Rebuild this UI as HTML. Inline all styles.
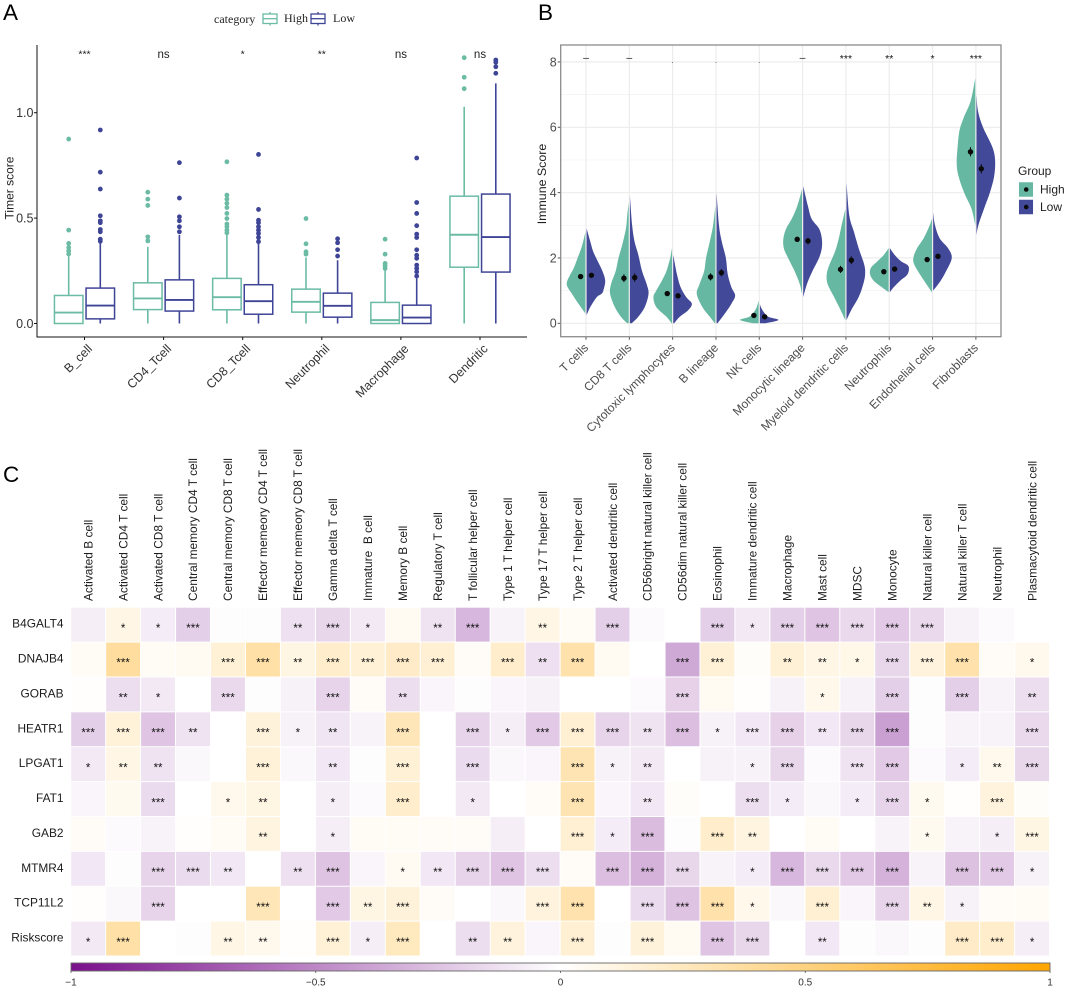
<!DOCTYPE html>
<html lang="en">
<head>
<meta charset="utf-8">
<title>Immune infiltration panels</title>
<style>
html,body{margin:0;padding:0;background:#fff;width:1065px;height:987px;overflow:hidden}
svg{display:block;font-family:"Liberation Sans",Arial,sans-serif}
text{white-space:pre}
</style>
</head>
<body>
<svg id="fig" xmlns="http://www.w3.org/2000/svg" width="1065" height="987" viewBox="0 0 1065 987">
<defs>
<linearGradient id="corrGrad" x1="0" x2="1" y1="0" y2="0">
<stop offset="0" stop-color="#7a0f8c"/><stop offset="0.5" stop-color="#ffffff"/><stop offset="1" stop-color="#ffa500"/>
</linearGradient>
</defs>
<rect width="1065" height="987" fill="#fff"/>
<g id="panelA"></g>
<g id="panelB"></g>
<g id="panelC"></g>
</svg>
<script>
/* ---------- Panel A data ---------- */
const timerCategories = ["B_cell","CD4_Tcell","CD8_Tcell","Neutrophil","Macrophage","Dendritic"];
const timerSignif = ["***","ns","*","**","ns","ns"];
const timerTicks = [0,0.5,1];
const timerTickLabels = ["0.0","0.5","1.0"];
const highQ1 = [0,0.066,0.065,0.054,0,0.267];
const highMedian = [0.052,0.119,0.125,0.103,0.016,0.421];
const highQ3 = [0.133,0.193,0.214,0.163,0.1,0.604];
const highWhiskerTop = [0.32,0.364,0.427,0.313,0.261,1.028];
const highOutliers = [
 [0.875,0.443,0.38,0.36,0.345,0.33],
 [0.623,0.59,0.56,0.411,0.392],
 [0.767,0.609,0.59,0.57,0.55,0.522,0.498,0.472,0.459,0.443,0.43],
 [0.498,0.378,0.34,0.329],
 [0.40,0.329,0.285,0.274,0.261],
 [1.261,1.168,1.114]];
const lowQ1 = [0.022,0.059,0.044,0.03,0,0.244];
const lowMedian = [0.085,0.112,0.106,0.084,0.028,0.41];
const lowQ3 = [0.168,0.207,0.184,0.144,0.087,0.614];
const lowWhiskerTop = [0.39,0.42,0.38,0.30,0.214,1.139];
const lowOutliers = [
 [0.918,0.718,0.638,0.511,0.487,0.478,0.446,0.435,0.40,0.39],
 [0.763,0.595,0.506,0.487,0.459,0.435],
 [0.802,0.541,0.49,0.478,0.459,0.443,0.427,0.408,0.388],
 [0.402,0.383,0.35,0.32],
 [0.785,0.574,0.522,0.464,0.424,0.408,0.35,0.324,0.309,0.277,0.261,0.245,0.225],
 [1.25,1.239,1.218,1.187]];

/* ---------- Panel B data ---------- */
const immuneCategories = ["T cells","CD8 T cells","Cytotoxic lymphocytes","B lineage","NK cells","Monocytic lineage","Myeloid dendritic cells","Neutrophils","Endothelial cells","Fibroblasts"];
const immuneSignif = ["\u2013","\u2013",".",".",".","\u2013","***","**","*","***"];
const immuneTicks = [0,2,4,6,8];
const immuneMinorTicks = [1,3,5,7];
const highMeans = [1.43,1.38,0.91,1.42,0.24,2.57,1.65,1.58,1.95,5.25];
const lowMeans = [1.47,1.40,0.84,1.55,0.20,2.52,1.93,1.66,2.05,4.73];
const highErrors = [0.07,0.12,0.05,0.11,0.03,0.08,0.11,0.05,0.05,0.14];
const lowErrors = [0.07,0.13,0.05,0.11,0.03,0.10,0.12,0.05,0.05,0.14];
/* each violin: [score, relative density] */
const highViolins = [
 [[0.3,0],[0.5,0.25],[0.7,0.5],[0.9,0.72],[1.1,0.95],[1.25,1],[1.45,0.85],[1.7,0.62],[2.0,0.42],[2.3,0.22],[2.6,0.08],[2.8,0]],
 [[0,0.08],[0.2,0.42],[0.5,0.75],[0.9,1],[1.2,0.95],[1.6,0.7],[2.0,0.55],[2.4,0.35],[2.9,0.15],[3.3,0.08],[3.7,0]],
 [[0,0.02],[0.2,0.3],[0.5,0.85],[0.8,1],[1.0,0.85],[1.3,0.55],[1.6,0.3],[2.0,0.1],[2.3,0]],
 [[0,0.02],[0.2,0.3],[0.5,0.7],[0.9,1],[1.2,0.85],[1.6,0.6],[2.0,0.5],[2.5,0.3],[3.0,0.12],[3.6,0]],
 [[0,0.3],[0.1,1],[0.2,0.5],[0.35,0.25],[0.5,0.1],[0.7,0]],
 [[0.9,0],[1.2,0.12],[1.6,0.4],[2.0,0.75],[2.3,0.98],[2.6,1],[2.9,0.85],[3.2,0.55],[3.6,0.25],[4.1,0]],
 [[0.1,0],[0.4,0.25],[0.8,0.6],[1.2,0.95],[1.5,1],[1.8,0.85],[2.2,0.55],[2.6,0.35],[3.0,0.2],[3.5,0]],
 [[0.95,0],[1.1,0.35],[1.3,0.8],[1.5,1],[1.7,0.95],[1.9,0.6],[2.1,0.25],[2.3,0]],
 [[0.95,0],[1.2,0.3],[1.5,0.65],[1.8,0.95],[2.0,1],[2.3,0.8],[2.6,0.45],[3.0,0.12],[3.2,0]],
 [[3.0,0],[3.5,0.2],[4.0,0.6],[4.5,0.9],[4.9,1],[5.4,0.95],[5.9,0.85],[6.3,0.62],[6.8,0.25],[7.5,0]]];
const lowViolins = [
 [[0.25,0],[0.5,0.2],[0.8,0.55],[0.9,0.8],[1.0,0.9],[1.3,1],[1.6,0.85],[1.9,0.6],[2.2,0.35],[2.5,0.2],[2.9,0]],
 [[0,0.1],[0.2,0.45],[0.5,0.8],[0.9,1],[1.2,0.9],[1.6,0.65],[2.1,0.45],[2.5,0.25],[3.0,0.12],[3.9,0]],
 [[0,0.05],[0.2,0.35],[0.4,0.8],[0.6,1],[0.8,0.7],[1.1,0.4],[1.5,0.2],[2.1,0]],
 [[0,0.05],[0.3,0.45],[0.6,0.8],[0.85,1],[1.1,0.8],[1.5,0.6],[2.0,0.5],[2.5,0.28],[3.0,0.13],[4.0,0]],
 [[0,0.3],[0.1,1],[0.2,0.45],[0.35,0.2],[0.5,0.05],[0.6,0]],
 [[0.8,0],[1.2,0.2],[1.6,0.5],[2.0,0.85],[2.3,1],[2.6,1],[2.9,0.85],[3.2,0.45],[3.6,0.25],[4.2,0]],
 [[0.1,0],[0.4,0.25],[0.8,0.65],[1.2,0.9],[1.5,1],[1.8,0.95],[2.3,0.65],[2.8,0.4],[3.3,0.15],[4.3,0]],
 [[0.95,0],[1.1,0.2],[1.3,0.55],[1.5,0.95],[1.75,1],[1.9,0.6],[2.1,0.25],[2.3,0]],
 [[1.0,0],[1.3,0.4],[1.6,0.7],[2.0,1],[2.3,0.8],[2.6,0.35],[3.0,0.1],[3.4,0]],
 [[2.7,0],[3.0,0.1],[3.5,0.4],[4.0,0.72],[4.5,0.95],[5.0,1],[5.4,0.85],[6.0,0.35],[6.5,0.08],[7.0,0]]];

/* ---------- Panel C data ---------- */
const geneLabels = ["B4GALT4","DNAJB4","GORAB","HEATR1","LPGAT1","FAT1","GAB2","MTMR4","TCP11L2","Riskscore"];
const cellLabels = ["Activated B cell","Activated CD4 T cell","Activated CD8 T cell","Central memory CD4 T cell","Central memory CD8 T cell","Effector memeory CD4 T cell","Effector memeory CD8 T cell","Gamma delta T cell","Immature  B cell","Memory B cell","Regulatory T cell","T follicular helper cell","Type 1 T helper cell","Type 17 T helper cell","Type 2 T helper cell","Activated dendritic cell","CD56bright natural killer cell","CD56dim natural killer cell","Eosinophil","Immature dendritic cell","Macrophage","Mast cell","MDSC","Monocyte","Natural killer cell","Natural killer T cell","Neutrophil","Plasmacytoid dendritic cell"];
const corrValues = [
 [-.07,.1,-.08,-.2,-.01,-.01,-.13,-.17,-.09,.05,-.12,-.3,-.05,.1,.04,-.2,-.02,0,-.2,-.09,-.2,-.24,-.16,-.22,-.16,-.06,-.02,0],
 [.04,.38,.04,.05,.16,.35,.11,.2,.16,.22,.17,.03,.2,-.13,.33,.05,0,-.36,.16,.02,.16,.1,.09,-.17,.13,.33,.03,.07],
 [.01,-.14,-.09,0,-.16,-.01,-.06,-.18,.03,-.14,-.04,-.01,-.04,-.06,0,0,-.02,-.19,.05,.01,-.06,.08,-.06,-.2,-.01,-.2,-.05,-.14],
 [-.2,.15,-.24,-.12,0,.14,-.06,-.11,-.05,.28,0,-.18,-.07,-.22,.17,-.18,-.12,-.27,-.06,-.1,-.19,-.1,-.17,-.4,-.01,-.05,-.05,-.16],
 [-.09,.1,-.12,-.03,0,.15,-.03,-.1,-.01,.16,0,-.15,-.03,-.04,.3,-.06,-.09,0,-.06,-.06,-.17,-.02,-.12,-.22,-.02,-.08,.07,-.17],
 [-.04,.06,-.15,0,.07,.11,0,-.07,-.02,.2,0,-.09,0,.03,.3,-.04,-.1,.02,0,-.14,-.08,-.03,-.08,-.18,.06,.01,.13,.02],
 [.03,-.02,-.05,.01,.04,.12,0,-.07,.04,.04,.03,.03,-.07,0,.17,-.08,-.28,-.01,.2,.12,0,.04,0,-.05,.06,-.05,-.07,.11],
 [-.1,-.01,-.18,-.15,-.1,0,-.13,-.25,-.04,.05,-.1,-.18,-.24,-.14,.03,-.27,-.32,-.17,-.05,-.08,-.3,-.16,-.22,-.32,-.05,-.26,-.22,-.06],
 [.01,-.03,-.18,0,0,.28,0,-.22,.11,.14,.03,0,-.03,.13,.32,0,-.15,-.25,.33,.08,-.03,.17,-.04,-.18,.1,-.06,.03,.04],
 [-.09,.35,0,-.01,.1,.07,.01,.16,-.07,.25,0,-.14,.13,-.04,.17,-.01,.14,.05,-.24,-.17,0,-.1,-.01,-.03,-.01,.22,.2,-.07]];
const corrStars = [
 [0,1,1,3,0,0,2,3,1,0,2,3,0,2,0,3,0,0,3,1,3,3,3,3,3,0,0,0],
 [0,3,0,0,3,3,2,3,3,3,3,0,3,2,3,0,0,3,3,0,2,2,1,3,3,3,0,1],
 [0,2,1,0,3,0,0,3,0,2,0,0,0,0,0,0,0,3,0,0,0,1,0,3,0,3,0,2],
 [3,3,3,2,0,3,1,2,0,3,0,3,1,3,3,3,2,3,1,3,3,2,3,3,0,0,0,3],
 [1,2,2,0,0,3,0,2,0,3,0,3,0,0,3,1,2,0,0,1,3,0,3,3,0,1,2,3],
 [0,0,3,0,1,2,0,1,0,3,0,1,0,0,3,0,2,0,0,3,1,0,1,3,1,0,3,0],
 [0,0,0,0,0,2,0,1,0,0,0,0,0,0,3,1,3,0,3,2,0,0,0,0,1,0,1,3],
 [0,0,3,3,2,0,2,3,0,1,2,3,3,3,0,3,3,3,0,1,3,3,3,3,0,3,3,1],
 [0,0,3,0,0,3,0,3,2,3,0,0,0,3,3,0,3,3,3,1,0,3,0,3,2,1,0,0],
 [1,3,0,0,2,2,0,3,1,3,0,2,2,0,3,0,3,0,3,3,0,2,0,0,0,3,3,1]];
const colorbarTicks = [-1,-0.5,0,0.5,1];
const colorbarLabels = ["\u22121","\u22120.5","0","0.5","1"];

/* ---------- helpers ---------- */
const NS = "http://www.w3.org/2000/svg";
const TEAL = "#6bbba5", NAVY = "#3f4596", TEAL_FILL = "#66b8a2", NAVY_FILL = "#424998";
function mk(parent, tag, attrs, txt){
  const el = document.createElementNS(NS, tag);
  for (const k in attrs) el.setAttribute(k, attrs[k]);
  if (txt !== undefined) el.textContent = txt;
  parent.appendChild(el);
  return el;
}
const svgA = document.getElementById("panelA");
const svgB = document.getElementById("panelB");
const svgC = document.getElementById("panelC");
let el;

/* panel letters */
[["A",3,20,svgA],["B",538,20,svgB],["C",3,482,svgC]].forEach(function(p){
  el = mk(p[3], "text", {x:p[1], y:p[2], "font-size":22.5, fill:"#000"}, p[0]);
  
  
});

/* ---------- Panel A ---------- */
const xA = i => 84.5 + 79.1 * i;
const yA = v => 323.5 - v * 210.8;
const boxOffset = 15.8, boxWidth = 28.5;

el = mk(svgA, "line", {x1:37, x2:37, y1:45, y2:337.5, stroke:"#111", "stroke-width":1});


el = mk(svgA, "line", {x1:37, x2:527, y1:337, y2:337, stroke:"#111", "stroke-width":1});


el = mk(svgA, "text", {transform:"translate(13.5,188) rotate(-90)", "text-anchor":"middle", "font-size":12, fill:"#222"}, "Timer score");



timerTicks.forEach(function(t, i){
  el = mk(svgA, "line", {x1:34, x2:37, y1:yA(t), y2:yA(t), stroke:"#111", "stroke-width":1});
  
  
  el = mk(svgA, "text", {x:33.5, y:yA(t)+4.4, "text-anchor":"end", "font-size":12.5, fill:"#333"}, timerTickLabels[i]);
  
  
});

function drawBox(i, dir, color, q1, med, q3, top, outs){
  const cx = xA(i) + dir * boxOffset;
  const g = mk(svgA, "g", {});
  
  
  el = mk(g, "line", {x1:cx, x2:cx, y1:yA(q3), y2:yA(top), stroke:color, "stroke-width":1.6});
  
  
  el = mk(g, "line", {x1:cx, x2:cx, y1:yA(q1), y2:yA(0), stroke:color, "stroke-width":1.6});
  
  
  el = mk(g, "rect", {x:cx-boxWidth/2, width:boxWidth, y:yA(q3), height:yA(q1)-yA(q3), fill:"#fff", stroke:color, "stroke-width":1.5});
  
  
  el = mk(g, "line", {x1:cx-boxWidth/2, x2:cx+boxWidth/2, y1:yA(med), y2:yA(med), stroke:color, "stroke-width":1.9});
  
  
  outs.forEach(function(o){
    el = mk(g, "circle", {cx:cx, cy:yA(o), r:2.4, fill:color});
    
    
  });
}
timerCategories.forEach(function(c, i){
  drawBox(i, -1, TEAL, highQ1[i], highMedian[i], highQ3[i], highWhiskerTop[i], highOutliers[i]);
  drawBox(i, 1, NAVY, lowQ1[i], lowMedian[i], lowQ3[i], lowWhiskerTop[i], lowOutliers[i]);
  el = mk(svgA, "line", {x1:xA(i), x2:xA(i), y1:337, y2:340, stroke:"#111", "stroke-width":1});
  
  
  el = mk(svgA, "text", {transform:"translate("+(xA(i)+8.5)+",349.5) rotate(-45)", "text-anchor":"end", "font-size":12.4, fill:"#333"}, c);
  
  
  const isStar = timerSignif[i] !== "ns";
  el = mk(svgA, "text", {x:xA(i), y:isStar?57.5:58, "text-anchor":"middle", "font-size":isStar?10.5:11.5, fill:"#222"}, timerSignif[i]);
  
  
});

/* panel A legend */
el = mk(svgA, "text", {x:214, y:23, "font-family":"Liberation Serif, serif", "font-size":12, fill:"#222"}, "category");


[[263,TEAL,"High",284],[311,NAVY,"Low",333]].forEach(function(l){
  const g = mk(svgA, "g", {});
  
  
  el = mk(g, "line", {x1:l[0]+7, x2:l[0]+7, y1:12, y2:25.5, stroke:l[1], "stroke-width":1.3});
  
  
  el = mk(g, "rect", {x:l[0], y:14, width:14, height:9.5, fill:"#fff", stroke:l[1], "stroke-width":1.3});
  
  
  el = mk(g, "line", {x1:l[0], x2:l[0]+14, y1:18.7, y2:18.7, stroke:l[1], "stroke-width":1.3});
  
  
  el = mk(g, "text", {x:l[3], y:22, "font-family":"Liberation Serif, serif", "font-size":12, fill:"#222"}, l[2]);
  
  
});

/* ---------- Panel B ---------- */
const xB = i => 586 + 43.32 * i;
const yB = v => 323.3 - v * 32.67;
const violinHalfWidth = 18.6, violinGap = 0.6, meanOffset = 5.4;
const panelL = 560.7, panelR = 1001, panelT = 45, panelB = 336.7;

immuneMinorTicks.forEach(function(t){
  el = mk(svgB, "line", {x1:panelL, x2:panelR, y1:yB(t), y2:yB(t), stroke:"#f2f2f2", "stroke-width":0.7});
  
  
});
immuneTicks.forEach(function(t){
  el = mk(svgB, "line", {x1:panelL, x2:panelR, y1:yB(t), y2:yB(t), stroke:"#ebebeb", "stroke-width":1.1});
  
  
  el = mk(svgB, "line", {x1:panelL-3, x2:panelL, y1:yB(t), y2:yB(t), stroke:"#555", "stroke-width":1});
  
  
  el = mk(svgB, "text", {x:panelL-4, y:yB(t)+4.4, "text-anchor":"end", "font-size":12.5, fill:"#4d4d4d"}, String(t));
  
  
});
function smoothPath(pts){
  let d = "";
  for (let i = 0; i < pts.length - 1; i++){
    const p0 = pts[Math.max(i-1,0)], p1 = pts[i], p2 = pts[i+1], p3 = pts[Math.min(i+2,pts.length-1)];
    const c1x = p1[0]+(p2[0]-p0[0])/6, c1y = p1[1]+(p2[1]-p0[1])/6;
    const c2x = p2[0]-(p3[0]-p1[0])/6, c2y = p2[1]-(p3[1]-p1[1])/6;
    d += " C"+c1x.toFixed(2)+" "+c1y.toFixed(2)+" "+c2x.toFixed(2)+" "+c2y.toFixed(2)+" "+p2[0].toFixed(2)+" "+p2[1].toFixed(2);
  }
  return d;
}
function violinD(i, dir, profile){
  const base = xB(i) + dir * violinGap;
  const pts = profile.map(p => [base + dir * p[1] * violinHalfWidth, yB(p[0])]);
  return "M"+base.toFixed(2)+" "+pts[0][1].toFixed(2)+" L"+pts[0][0].toFixed(2)+" "+pts[0][1].toFixed(2)+smoothPath(pts)+" L"+base.toFixed(2)+" "+pts[pts.length-1][1].toFixed(2)+" Z";
}
immuneCategories.forEach(function(c, i){
  el = mk(svgB, "line", {x1:xB(i), x2:xB(i), y1:panelT, y2:panelB, stroke:"#ebebeb", "stroke-width":1.1});
  
  
});
immuneCategories.forEach(function(c, i){
  el = mk(svgB, "path", {d:violinD(i,-1,highViolins[i]), fill:TEAL_FILL});
  
  
  el = mk(svgB, "path", {d:violinD(i,1,lowViolins[i]), fill:NAVY_FILL});
  
  
  [[-1,highMeans[i],highErrors[i]],[1,lowMeans[i],lowErrors[i]]].forEach(function(m){
    const mx = xB(i) + m[0]*meanOffset;
    el = mk(svgB, "line", {x1:mx, x2:mx, y1:yB(m[1]-m[2]), y2:yB(m[1]+m[2]), stroke:"#0a0a0a", "stroke-width":1});
    
    
    el = mk(svgB, "circle", {cx:mx, cy:yB(m[1]), r:2.7, fill:"#0a0a0a"});
    
    
  });
  el = mk(svgB, "line", {x1:xB(i), x2:xB(i), y1:panelB, y2:panelB+3, stroke:"#555", "stroke-width":1});
  
  
  el = mk(svgB, "text", {transform:"translate("+(xB(i)+3)+",348.5) rotate(-45)", "text-anchor":"end", "font-size":12, fill:"#4d4d4d"}, c);
  
  
  el = mk(svgB, "text", {x:xB(i), y:immuneSignif[i]==="\u2013"?61:(immuneSignif[i]==="."?63:62), "text-anchor":"middle", "font-size":immuneSignif[i]==="."?7:10.5, fill:"#111"}, immuneSignif[i]);
  
  
});
el = mk(svgB, "rect", {x:panelL, y:panelT, width:panelR-panelL, height:panelB-panelT, fill:"none", stroke:"#8c8c8c", "stroke-width":1.3});


el = mk(svgB, "text", {transform:"translate(546,184) rotate(-90)", "text-anchor":"middle", "font-size":12.4, fill:"#222"}, "Immune Score");


el = mk(svgB, "text", {x:1018, y:175, "font-size":12, fill:"#222"}, "Group");


[[182,TEAL_FILL,"High"],[199.5,NAVY_FILL,"Low"]].forEach(function(l){
  const g = mk(svgB, "g", {});
  
  
  el = mk(g, "rect", {x:1018.7, y:l[0], width:14.6, height:15, fill:l[1], stroke:"#fff", "stroke-width":0.5});
  
  
  el = mk(g, "circle", {cx:1026.2, cy:l[0]+7.5, r:2.3, fill:"#0a0a0a"});
  
  
  el = mk(g, "text", {x:1040, y:l[0]+11.5, "font-size":12, fill:"#222"}, l[2]);
  
  
});

/* ---------- Panel C ---------- */
const colX = j => 71.2 + 34.96 * j;
const rowY = r => 607.7 + 34.88 * r;
const colW = 33.9, rowH = 33.9;
function corrColor(v){
  const t = Math.abs(v);
  const end = v >= 0 ? [255,165,0] : [122,15,140];
  const c = end.map(e => Math.round(255 + (e-255)*t));
  return "rgb("+c.join(",")+")";
}
cellLabels.forEach(function(c, j){
  el = mk(svgC, "text", {transform:"translate("+(colX(j)+colW/2+4.2)+",601) rotate(-90)", "font-size":11.9, fill:"#1c1c1c"}, c);
  
  
});
geneLabels.forEach(function(g, r){
  el = mk(svgC, "text", {x:63.5, y:rowY(r)+rowH/2+3, "text-anchor":"end", "font-size":11.9, fill:"#1c1c1c"}, g);
  
  
  cellLabels.forEach(function(c, j){
    el = mk(svgC, "rect", {x:colX(j), y:rowY(r), width:colW, height:rowH, fill:corrColor(corrValues[r][j])});
    
    
    if (corrStars[r][j] > 0){
      el = mk(svgC, "text", {x:colX(j)+colW/2, y:rowY(r)+rowH/2+7.2, "text-anchor":"middle", "font-size":11.5, fill:"#111"}, "*".repeat(corrStars[r][j]));
      
      
    }
  });
});
const cbX = v => 71 + (v + 1) / 2 * 979;
el = mk(svgC, "rect", {x:71, y:963, width:979, height:8, fill:"url(#corrGrad)", stroke:"#666", "stroke-width":0.9});


colorbarTicks.forEach(function(t, i){
  el = mk(svgC, "line", {x1:cbX(t), x2:cbX(t), y1:971, y2:973, stroke:"#555", "stroke-width":0.8});
  
  
  el = mk(svgC, "text", {x:cbX(t), y:985.3, "text-anchor":"middle", "font-size":10, fill:"#333"}, colorbarLabels[i]);
  
  
});
</script>
</body>
</html>
